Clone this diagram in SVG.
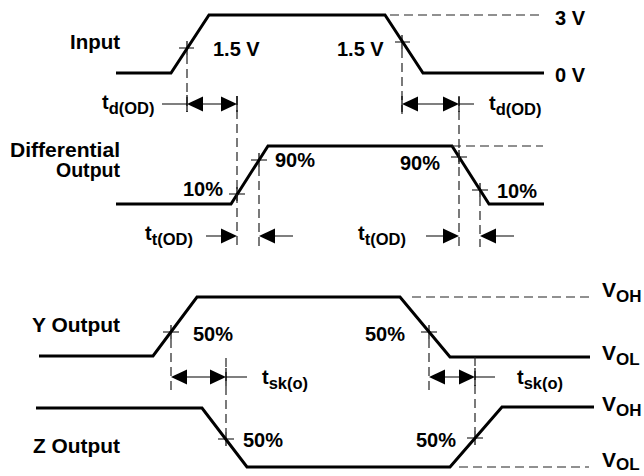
<svg xmlns="http://www.w3.org/2000/svg" width="644" height="476" viewBox="0 0 644 476">
<style>
text{font-family:"Liberation Sans",Arial,sans-serif;font-weight:bold;font-size:20px;fill:#000}
.sub{font-size:16.5px}
.v{font-size:21px}
.vs{font-size:17px}
.wave{fill:none;stroke:#000;stroke-width:3;stroke-linejoin:miter}
.dash{fill:none;stroke:#222;stroke-width:1.2;stroke-dasharray:9 5}
.thin{fill:none;stroke:#000;stroke-width:1.2}
.tri{fill:#000}
</style>
<rect width="644" height="476" fill="#fff"/>
<g id="input">
<polyline class="wave" points="116,73 171,73 209,15 385,15 423,73 544,73"/>
<line class="dash" x1="390" y1="15" x2="543" y2="15"/>
<path class="thin" d="M179,48H194M187,41V55M395,42H410M402,35V49"/>
<text x="120" y="49" text-anchor="end" textLength="50" lengthAdjust="spacingAndGlyphs">Input</text>
<text x="213" y="56">1.5 V</text>
<text x="337" y="56">1.5 V</text>
<text x="555" y="25">3 V</text>
<text x="555" y="82">0 V</text>
</g>
<g id="differential">
<polyline class="wave" points="116,204 231,204 268,146 452,146 489,204 544,204"/>
<line class="dash" x1="452" y1="146" x2="543" y2="146"/>
<path class="thin" d="M229,194H245M237,187V201M251,160H267M259,153V167M451,157H467M459,150V164M472,190H488M480,183V197"/>
<text x="120" y="157" text-anchor="end" textLength="110" lengthAdjust="spacingAndGlyphs">Differential</text>
<text x="120" y="177" text-anchor="end" textLength="64" lengthAdjust="spacingAndGlyphs">Output</text>
<text x="183" y="196">10%</text>
<text x="275" y="167">90%</text>
<text x="400" y="170">90%</text>
<text x="497" y="198">10%</text>
</g>
<g id="y-output">
<polyline class="wave" points="39,356 153,356 197,297 400,297 450,357 590,357"/>
<line class="dash" x1="412" y1="297" x2="589" y2="297"/>
<path class="thin" d="M163,332H179M171,325V339M421,332H437M429,325V339"/>
<text x="120" y="332" text-anchor="end" textLength="88" lengthAdjust="spacingAndGlyphs">Y Output</text>
<text x="193" y="341">50%</text>
<text x="365" y="341">50%</text>
<text x="602" y="297" class="v">V<tspan class="vs" dy="5">OH</tspan></text>
<text x="602" y="360" class="v">V<tspan class="vs" dy="5">OL</tspan></text>
</g>
<g id="z-output">
<polyline class="wave" points="36,408 202,408 247,467 450,467 502,407 594,407"/>
<line class="dash" x1="459" y1="467" x2="589" y2="467"/>
<path class="thin" d="M218,439H234M226,432V446M467,438H483M475,431V445"/>
<text x="120" y="453" text-anchor="end" textLength="87" lengthAdjust="spacingAndGlyphs">Z Output</text>
<text x="243" y="447">50%</text>
<text x="416" y="447">50%</text>
<text x="602" y="411" class="v">V<tspan class="vs" dy="5">OH</tspan></text>
<text x="602" y="467" class="v">V<tspan class="vs" dy="3">OL</tspan></text>
</g>
<g id="connectors">
<line class="dash" x1="187" y1="55" x2="187" y2="112"/>
<line class="dash" x1="237" y1="96" x2="237" y2="247"/>
<line class="dash" x1="402" y1="49" x2="402" y2="118"/>
<line class="dash" x1="459" y1="97" x2="459" y2="247"/>
<line class="dash" x1="259" y1="167" x2="259" y2="247"/>
<line class="dash" x1="480" y1="197" x2="480" y2="247"/>
<line class="dash" x1="171" y1="339" x2="171" y2="390"/>
<line class="dash" x1="226" y1="358" x2="226" y2="432"/>
<line class="dash" x1="429" y1="339" x2="429" y2="390"/>
<line class="dash" x1="475" y1="357" x2="475" y2="431"/>
<path class="thin" d="M162,104H187M187,95V112M203,104H221M237,96V112"/>
<polygon class="tri" points="187,104 203,96.5 203,111.5"/>
<polygon class="tri" points="237,104 221,96.5 221,111.5"/>
<text x="102" y="109">t<tspan class="sub" dy="5">d(OD)</tspan></text>
<path class="thin" d="M402,96V112M418,104H443M459,104H474M459,96V112"/>
<polygon class="tri" points="402,104 418,96.5 418,111.5"/>
<polygon class="tri" points="459,104 443,96.5 443,111.5"/>
<text x="489" y="110">t<tspan class="sub" dy="5">d(OD)</tspan></text>
<path class="thin" d="M206,236H222M275,236H293"/>
<polygon class="tri" points="237,236 221,228.5 221,243.5"/>
<polygon class="tri" points="259,236 275,228.5 275,243.5"/>
<text x="145" y="240">t<tspan class="sub" dy="5">t(OD)</tspan></text>
<path class="thin" d="M426,236H444M496,236H514"/>
<polygon class="tri" points="459,236 443,228.5 443,243.5"/>
<polygon class="tri" points="480,236 496,228.5 496,243.5"/>
<text x="358" y="240">t<tspan class="sub" dy="5">t(OD)</tspan></text>
<path class="thin" d="M187,377H211M226,377H247M226,368V386"/>
<polygon class="tri" points="171,377 187,369.5 187,384.5"/>
<polygon class="tri" points="226,377 210,369.5 210,384.5"/>
<text x="262" y="384">t<tspan class="sub" dy="5">sk(o)</tspan></text>
<path class="thin" d="M445,377H459M475,377H495M475,368V386"/>
<polygon class="tri" points="429,377 445,369.5 445,384.5"/>
<polygon class="tri" points="475,377 459,369.5 459,384.5"/>
<text x="517" y="384">t<tspan class="sub" dy="5">sk(o)</tspan></text>
</g>
</svg>
